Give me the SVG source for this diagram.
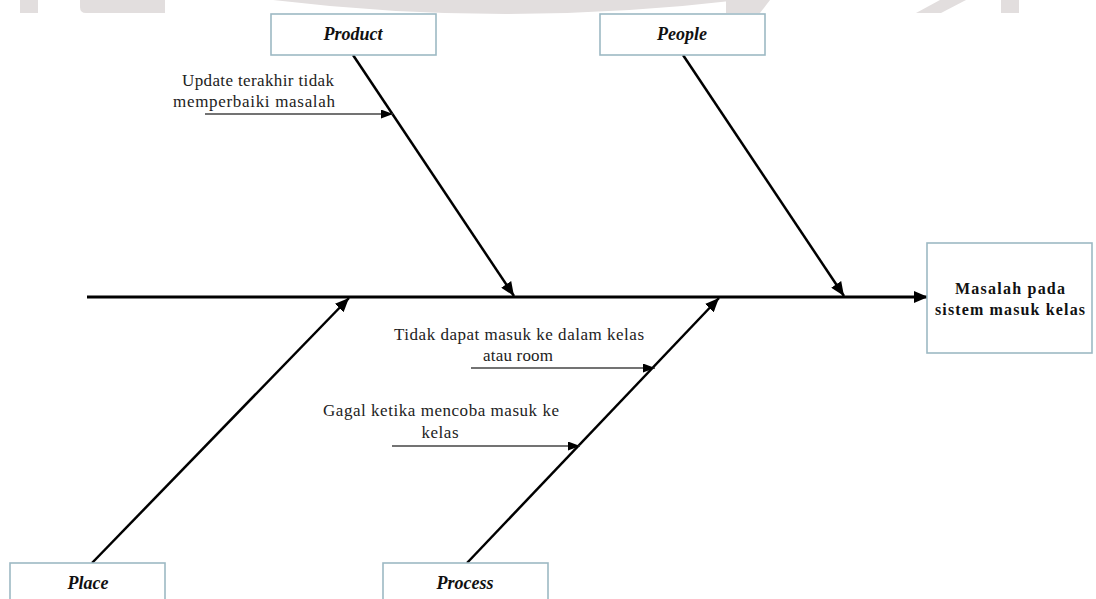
<svg xmlns="http://www.w3.org/2000/svg" width="1096" height="599" viewBox="0 0 1096 599">
  <style>
    .wm { fill: #e2dede; }
    .box { fill: #ffffff; stroke: #9db9c4; stroke-width: 1.6; }
    .lbl { font-family: "Liberation Serif", "Times New Roman", serif; font-size: 18px; font-weight: bold; font-style: italic; fill: #111; text-anchor: middle; }
    .eff { font-family: "Liberation Serif", "Times New Roman", serif; font-size: 16px; font-weight: bold; fill: #111; text-anchor: middle; }
    .cause { font-family: "Liberation Serif", "Times New Roman", serif; font-size: 17px; fill: #222; text-anchor: middle; }
    .spine { stroke: #000; stroke-width: 3; fill: none; }
    .bone { stroke: #000; stroke-width: 2.5; fill: none; }
    .sub { stroke: #444; stroke-width: 1.5; fill: none; }
  </style>
  <defs>
    <marker id="big" markerUnits="userSpaceOnUse" markerWidth="14" markerHeight="12" refX="14" refY="6" orient="auto">
      <path d="M0,0 L14,6 L0,12 Z" fill="#000"/>
    </marker>
    <marker id="small" markerUnits="userSpaceOnUse" markerWidth="12" markerHeight="9" refX="12" refY="4.5" orient="auto">
      <path d="M0,0 L12,4.5 L0,9 Z" fill="#000"/>
    </marker>
  </defs>
  <rect width="1096" height="599" fill="#ffffff"/>
  <g id="watermark">
    <rect class="wm" x="20" y="0" width="18" height="13"/>
    <path class="wm" d="M80,0 H165 V13 H86 Q80,13 80,7 Z"/>
    <path class="wm" d="M273,0 Q505,28 740,0 Z"/>
    <path class="wm" d="M726,0 H770 L760,13 H726 Z"/>
    <path class="wm" d="M940,0 H966 L941,13 H916 Z"/>
    <rect class="wm" x="1001" y="0" width="18" height="13"/>
  </g>
  <g id="connectors">
    <line class="spine" x1="87" y1="297" x2="928" y2="297" marker-end="url(#big)"/>
    <line class="bone" x1="353" y1="55" x2="514" y2="296" marker-end="url(#big)"/>
    <line class="bone" x1="683" y1="55" x2="844" y2="296" marker-end="url(#big)"/>
    <line class="bone" x1="92" y1="563" x2="349" y2="298" marker-end="url(#big)"/>
    <line class="bone" x1="467" y1="563" x2="719" y2="298" marker-end="url(#big)"/>
    <line class="sub" x1="205" y1="114" x2="393" y2="114" marker-end="url(#small)"/>
    <line class="sub" x1="471" y1="368" x2="655" y2="368" marker-end="url(#small)"/>
    <line class="sub" x1="392" y1="446" x2="580" y2="446" marker-end="url(#small)"/>
  </g>
  <g id="product">
    <rect class="box" x="271" y="14" width="165" height="41"/>
    <text class="lbl" x="353" y="40">Product</text>
  </g>
  <g id="people">
    <rect class="box" x="600" y="14" width="165" height="41"/>
    <text class="lbl" x="682" y="40">People</text>
  </g>
  <g id="place">
    <rect class="box" x="10" y="563" width="155" height="45"/>
    <text class="lbl" x="88" y="589">Place</text>
  </g>
  <g id="process">
    <rect class="box" x="383" y="563" width="165" height="45"/>
    <text class="lbl" x="465" y="589">Process</text>
  </g>
  <g id="effect">
    <rect class="box" x="927" y="243" width="165" height="110"/>
    <text class="eff" x="1010" y="294" textLength="110" lengthAdjust="spacing">Masalah pada</text>
    <text class="eff" x="1010" y="315" textLength="150" lengthAdjust="spacing">sistem masuk kelas</text>
  </g>
  <g id="cause-update">
    <text class="cause" x="258" y="86" textLength="152" lengthAdjust="spacing">Update terakhir tidak</text>
    <text class="cause" x="254" y="107" textLength="162" lengthAdjust="spacing">memperbaiki masalah</text>
  </g>
  <g id="cause-tidak">
    <text class="cause" x="519" y="340" textLength="250" lengthAdjust="spacing">Tidak dapat masuk ke dalam kelas</text>
    <text class="cause" x="518" y="361" textLength="70" lengthAdjust="spacing">atau room</text>
  </g>
  <g id="cause-gagal">
    <text class="cause" x="441" y="416" textLength="236" lengthAdjust="spacing">Gagal ketika mencoba masuk ke</text>
    <text class="cause" x="440" y="438" textLength="37" lengthAdjust="spacing">kelas</text>
  </g>
</svg>
